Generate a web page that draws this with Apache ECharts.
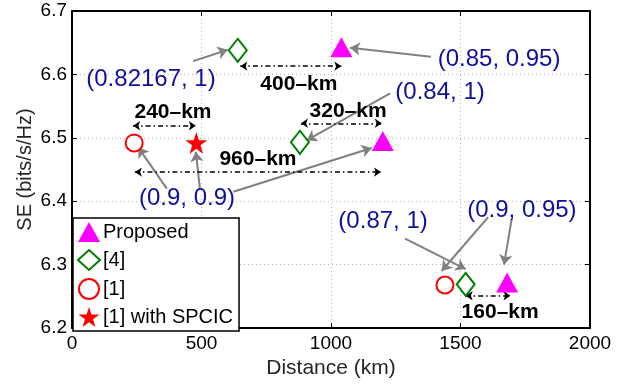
<!DOCTYPE html>
<html>
<head>
<meta charset="utf-8">
<script src="https://cdn.jsdelivr.net/npm/echarts@6/dist/echarts.min.js"></script>
<style>
  html, body { margin: 0; padding: 0; background: #fff; }
  #chart { width: 621px; height: 384px; }
</style>
</head>
<body>
<div id="chart"></div>
<script>
// scheme markers (x = distance km, y = SE)
const proposedX = [1040, 1200, 1680]
const proposedY = [6.643, 6.495, 6.272]
const ref4X = [640, 880, 1520]
const ref4Y = [6.638, 6.493, 6.269]
const ref1X = [240, 1440]
const ref1Y = [6.492, 6.268]
const spcicX = [480]
const spcicY = [6.492]

// distance gaps (double arrows) and their labels
const gapLabels = ['400\u2013km', '240\u2013km', '320\u2013km', '960\u2013km', '160\u2013km']
const gapFrom = [[650, 6.613], [236, 6.519], [884, 6.523], [243, 6.446], [1520, 6.251]]
const gapTo = [[1040, 6.613], [478, 6.519], [1196, 6.523], [1193, 6.446], [1693, 6.251]]
const gapLabelAt = [[876, 6.585], [390, 6.541], [1066, 6.542], [718, 6.467], [1653, 6.225]]

// parameter annotations
const paramLabels = ['(0.82167, 1)', '(0.85, 0.95)', '(0.84, 1)', '(0.9, 0.9)', '(0.87, 1)', '(0.9, 0.95)']
const paramAt = [[305, 6.592], [1649, 6.623], [1421, 6.572], [444, 6.405], [1201, 6.369], [1737, 6.386]]
const pointerFrom = [[468, 6.621], [1386, 6.628], [1228, 6.570], [366, 6.420], [494, 6.420], [623, 6.415], [1286, 6.341], [1607, 6.375], [1698, 6.373]]
const pointerTo = [[601, 6.639], [1073, 6.642], [906, 6.496], [256, 6.485], [478, 6.478], [1157, 6.484], [1520, 6.293], [1427, 6.290], [1668, 6.300]]

const xTicks = [0, 500, 1000, 1500, 2000]
const yTicks = [6.2, 6.3, 6.4, 6.5, 6.6, 6.7]

const FONT = "'Liberation Sans', Arial, Helvetica, sans-serif"
const STAR = 'path://M50,2 L61,36 L97,36 L68,57 L79,92 L50,71 L21,92 L32,57 L3,36 L39,36 Z'

const zip = (xs, ys) => xs.map((x, i) => [x, ys[i]])

const chart = echarts.init(document.getElementById('chart'))

const gridLine = { show: true, lineStyle: { color: '#b8b8b8', type: [1, 3], width: 1 } }
const tickIn = { show: true, inside: true, length: 5, lineStyle: { color: '#000', width: 1 } }
const boxLine = { show: true, onZero: false, lineStyle: { color: '#000', width: 2 } }

const option = {
  animation: false,
  backgroundColor: '#fff',
  textStyle: { fontFamily: FONT },
  grid: { left: 72, top: 11, right: 31, bottom: 53 },
  xAxis: [
    {
      type: 'value', min: 0, max: 2000, interval: 500,
      name: 'Distance (km)', nameLocation: 'middle', nameGap: 21,
      nameTextStyle: { fontSize: 21, color: '#262626', fontFamily: FONT },
      axisLine: boxLine, axisTick: tickIn, splitLine: gridLine,
      axisLabel: { fontSize: 19, color: '#000', margin: 6, fontFamily: FONT,
        formatter: v => xTicks.includes(v) ? String(v) : '' }
    },
    {
      type: 'value', min: 0, max: 2000, interval: 500, position: 'top',
      axisLine: boxLine, axisTick: tickIn, splitLine: { show: false }, axisLabel: { show: false }
    }
  ],
  yAxis: [
    {
      type: 'value', min: 6.2, max: 6.7, interval: 0.1,
      name: 'SE (bits/s/Hz)', nameLocation: 'middle', nameGap: 37, nameMoveOverlap: false,
      nameTextStyle: { fontSize: 20, color: '#262626', fontFamily: FONT },
      axisLine: boxLine, axisTick: tickIn, splitLine: gridLine,
      axisLabel: { fontSize: 19, color: '#000', margin: 5, fontFamily: FONT,
        formatter: v => yTicks.some(t => Math.abs(t - v) < 1e-6) ? v.toFixed(1) : '' }
    },
    {
      type: 'value', min: 6.2, max: 6.7, interval: 0.1, position: 'right',
      axisLine: boxLine, axisTick: tickIn, splitLine: { show: false }, axisLabel: { show: false }
    }
  ],
  legend: {
    data: ['Proposed', '[4]', '[1]', '[1] with SPCIC'],
    orient: 'vertical', left: 73, top: 218,
    itemWidth: 22, itemHeight: 20, itemGap: 7,
    padding: [4, 6, 4, 4],
    backgroundColor: '#fff', borderColor: '#000', borderWidth: 1.5,
    textStyle: { fontSize: 20, color: '#000', fontFamily: FONT, padding: [0, 0, 0, -2] }
  },
  series: [
    {
      type: 'lines', coordinateSystem: 'cartesian2d', z: 3, silent: true,
      symbol: ['none', 'arrow'], symbolSize: 10,
      lineStyle: { color: '#808080', width: 2, opacity: 1 },
      data: pointerFrom.map((p, i) => ({ coords: [p, pointerTo[i]] }))
    },
    {
      type: 'lines', coordinateSystem: 'cartesian2d', z: 3, silent: true,
      symbol: ['arrow', 'arrow'], symbolSize: 7,
      lineStyle: { color: '#000', width: 1.5, type: [5, 3, 1.5, 3], opacity: 1 },
      data: gapFrom.map((p, i) => ({ coords: [p, gapTo[i]] }))
    },
    {
      name: 'Proposed', type: 'scatter', z: 5,
      symbol: 'triangle', symbolSize: [22, 20],
      itemStyle: { color: '#ff00ff', opacity: 1 },
      data: zip(proposedX, proposedY)
    },
    {
      name: '[4]', type: 'scatter', z: 5,
      symbol: 'emptyDiamond', symbolSize: [18, 23],
      itemStyle: { color: '#008000', borderWidth: 2, opacity: 1 },
      data: zip(ref4X, ref4Y)
    },
    {
      name: '[1]', type: 'scatter', z: 5,
      symbol: 'emptyCircle', symbolSize: 17,
      itemStyle: { color: '#ff0000', borderWidth: 2, opacity: 1 },
      data: zip(ref1X, ref1Y)
    },
    {
      name: '[1] with SPCIC', type: 'scatter', z: 5,
      symbol: STAR, symbolSize: 22,
      itemStyle: { color: '#ff0000', opacity: 1 },
      data: zip(spcicX, spcicY)
    },
    {
      type: 'scatter', z: 6, silent: true, symbolSize: 1,
      itemStyle: { color: 'rgba(0,0,0,0)', opacity: 1 },
      label: { show: true, position: 'inside', formatter: '{b}', fontSize: 21, fontWeight: 'bold',
        color: '#000', textBorderWidth: 0, opacity: 1, fontFamily: FONT },
      data: gapLabelAt.map((p, i) => ({ name: gapLabels[i], value: p }))
    },
    {
      type: 'scatter', z: 6, silent: true, symbolSize: 1,
      itemStyle: { color: 'rgba(0,0,0,0)', opacity: 1 },
      label: { show: true, position: 'inside', formatter: '{b}', fontSize: 24,
        color: '#10109c', textBorderWidth: 0, opacity: 1, fontFamily: FONT },
      data: paramAt.map((p, i) => ({ name: paramLabels[i], value: p }))
    }
  ]
}

chart.setOption(option)
window.addEventListener('resize', () => { chart.resize() })
</script>
</body>
</html>
